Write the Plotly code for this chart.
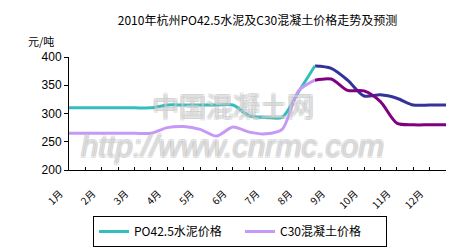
import plotly.graph_objects as go

# ---- data ----
months = ["1月", "2月", "3月", "4月", "5月", "6月", "7月", "8月", "9月", "10月", "11月", "12月"]
periods = list(range(24))  # semi-monthly points

po_actual_x = list(range(0, 16))
po_actual = [310, 310, 310, 310, 310, 310, 315, 315, 315, 315, 315, 296, 293, 293, 338, 384]
po_fore_x = list(range(15, 24))
po_fore = [384, 380, 359, 331, 333, 327, 315, 315, 315]

c30_actual_x = list(range(0, 16))
c30_actual = [265, 265, 265, 265, 265, 265, 275, 277, 272, 260, 276, 267, 264, 272, 340, 359]
c30_fore_x = list(range(15, 24))
c30_fore = [359, 361, 341, 340, 321, 283, 280, 280, 280]

month_pos = [0, 2, 4, 6, 8, 10, 12, 14, 16, 18, 20, 22]
y_ticks = [200, 250, 300, 350, 400]

title = "2010年杭州PO42.5水泥及C30混凝土价格走势及预测"
unit = "元/吨"
wm_cn = "中国混凝土网"
wm_url = "http://www.cnrmc.com"

C_TEAL = "#33BDBD"
C_LAV = "#C799F7"
C_BLUE = "#333399"
C_PURP = "#800080"

fig = go.Figure()
fig.add_trace(go.Scatter(x=po_fore_x, y=po_fore, mode="lines", line=dict(color=C_BLUE, width=3, shape="spline", smoothing=0.8), showlegend=False, hoverinfo="skip"))
fig.add_trace(go.Scatter(x=c30_fore_x, y=c30_fore, mode="lines", line=dict(color=C_PURP, width=3, shape="spline", smoothing=0.8), showlegend=False, hoverinfo="skip"))
fig.add_trace(go.Scatter(x=po_actual_x, y=po_actual, mode="lines", name="PO42.5水泥价格", line=dict(color=C_TEAL, width=3, shape="spline", smoothing=0.8)))
fig.add_trace(go.Scatter(x=c30_actual_x, y=c30_actual, mode="lines", name="C30混凝土价格", line=dict(color=C_LAV, width=3, shape="spline", smoothing=0.8)))

font_cjk = "Noto Sans CJK SC"
wm_shadow = "1px 1px 0 #aaa, -1px -1px 0 #aaa, 1px -1px 0 #aaa, -1px 1px 0 #aaa"

fig.update_layout(
    width=467, height=249,
    margin=dict(l=69, r=21, t=57, b=79, autoexpand=False),
    paper_bgcolor="white", plot_bgcolor="white",
    title=dict(text=title, x=0.5, xref="paper", xanchor="center", y=1 - 21 / 249, yanchor="middle",
               font=dict(family=font_cjk, size=12, color="black")),
    showlegend=True,
    legend=dict(orientation="h", xref="container", yref="container", x=93 / 467, xanchor="left",
                y=1 - 216 / 249, yanchor="top",
                bordercolor="black", borderwidth=1, bgcolor="white",
                font=dict(family=font_cjk, size=12, color="black"),
                entrywidth=101, entrywidthmode="pixels", itemwidth=30, tracegroupgap=0),
    xaxis=dict(range=[0, 23], tickmode="array", tickvals=month_pos, ticktext=months,
               tickangle=-45, ticks="inside", ticklen=3, tickcolor="black",
               minor=dict(dtick=1, tick0=0, ticks="inside", ticklen=3, tickcolor="black"),
               showline=True, linecolor="black", linewidth=1, showgrid=False, zeroline=False,
               ticklabelshift=-9, ticklabelstandoff=13, automargin=False,
               tickfont=dict(family=font_cjk, size=10, color="black")),
    yaxis=dict(range=[200, 400], tickmode="array", tickvals=y_ticks, ticks="outside", ticklen=4,
               tickcolor="black", showline=True, linecolor="black", linewidth=1, showgrid=False,
               zeroline=False, automargin=False,
               tickfont=dict(family="Liberation Sans, Arial", size=12, color="black")),
    annotations=[
        dict(text=unit, xref="paper", yref="paper", x=(26 - 69) / 377, y=(170 - 41) / 113,
             xanchor="left", yanchor="middle", showarrow=False,
             font=dict(family=font_cjk, size=11, color="black")),
        dict(text=wm_cn, xref="paper", yref="paper", x=(233 - 69) / 377, y=(170 - 105) / 113,
             xanchor="center", yanchor="middle", showarrow=False,
             font=dict(family=font_cjk, size=27, color="rgba(255,255,255,0.3)", shadow=wm_shadow)),
        dict(text="<i>" + wm_url + "</i>", xref="paper", yref="paper", x=(232 - 69) / 377, y=(170 - 146) / 113,
             xanchor="center", yanchor="middle", showarrow=False,
             font=dict(family="Liberation Sans, Arial", size=31, color="rgba(255,255,255,0.3)", shadow=wm_shadow)),
    ],
)

fig.write_html("out.html")
